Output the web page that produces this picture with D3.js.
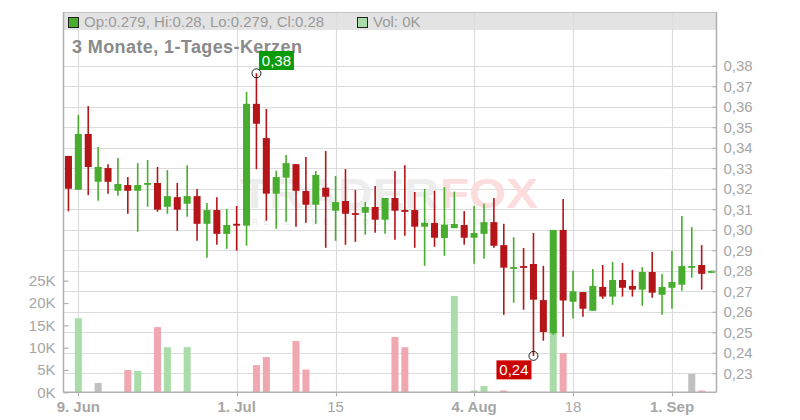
<!DOCTYPE html>
<html><head><meta charset="utf-8">
<script src="https://cdn.jsdelivr.net/npm/d3@7/dist/d3.min.js"></script>
<style>body{margin:0;background:#fff}svg{display:block;font-family:"Liberation Sans",Arial,Helvetica,sans-serif}</style>
</head><body><svg id="c" width="800" height="420"></svg>
<script>
// ---- data ----
const dates = ["2025-06-06","2025-06-09","2025-06-10","2025-06-11","2025-06-12","2025-06-13",
"2025-06-16","2025-06-17","2025-06-18","2025-06-19","2025-06-20",
"2025-06-23","2025-06-24","2025-06-25","2025-06-26","2025-06-27",
"2025-06-30","2025-07-01","2025-07-02","2025-07-03","2025-07-04",
"2025-07-07","2025-07-08","2025-07-09","2025-07-10","2025-07-11",
"2025-07-14","2025-07-15","2025-07-16","2025-07-17","2025-07-18",
"2025-07-21","2025-07-22","2025-07-23","2025-07-24","2025-07-25",
"2025-07-28","2025-07-29","2025-07-30","2025-07-31","2025-08-01",
"2025-08-04","2025-08-05","2025-08-06","2025-08-07","2025-08-08",
"2025-08-11","2025-08-12","2025-08-13","2025-08-14","2025-08-15",
"2025-08-18","2025-08-19","2025-08-20","2025-08-21","2025-08-22",
"2025-08-25","2025-08-26","2025-08-27","2025-08-28","2025-08-29",
"2025-09-01","2025-09-02","2025-09-03","2025-09-04","2025-09-05"];
const open  = [0.336,0.3195,0.3467,0.3234,0.3301,0.319,
0.3218,0.319,0.322,0.3228,0.3112,
0.3159,0.3127,0.3164,0.3029,0.3096,
0.298,0.3029,0.302,0.3614,0.3447,
0.3176,0.3254,0.332,0.3189,0.3122,
0.3205,0.3093,0.314,0.3081,0.3083,
0.3111,0.3049,0.3155,0.3096,0.3096,
0.3015,0.3033,0.296,0.3008,0.3023,
0.2961,0.298,0.3037,0.2925,0.2815,
0.2823,0.2833,0.2657,0.2495,0.2999,
0.2649,0.2696,0.2605,0.2721,0.2674,
0.2755,0.2726,0.2708,0.2794,0.2683,
0.2717,0.2732,0.2819,0.2828,0.279];
const high  = [0.336,0.356,0.3603,0.3403,0.332,0.335,
0.3257,0.3325,0.334,0.3306,0.3291,
0.3228,0.3315,0.3199,0.313,0.3159,
0.3101,0.3116,0.3672,0.3763,0.3589,
0.3288,0.3364,0.332,0.3355,0.3286,
0.3384,0.3262,0.3296,0.3194,0.3135,
0.3213,0.3155,0.3286,0.3315,0.3184,
0.3199,0.319,0.3208,0.3186,0.3091,
0.3116,0.3127,0.3155,0.3029,0.2964,
0.2911,0.2984,0.2824,0.2999,0.315,
0.28,0.2696,0.2809,0.2828,0.2843,
0.2838,0.2804,0.2818,0.2892,0.2784,
0.2896,0.3067,0.3013,0.2925,0.28];
const low   = [0.309,0.3195,0.3169,0.3141,0.3176,0.3166,
0.3078,0.299,0.3112,0.3088,0.3078,
0.2995,0.3063,0.2946,0.2863,0.2927,
0.2907,0.2898,0.2922,0.3295,0.3044,
0.3005,0.3039,0.3015,0.3034,0.3029,
0.2912,0.2946,0.2927,0.2941,0.2976,
0.2985,0.298,0.2951,0.2971,0.2912,
0.2824,0.2917,0.2873,0.3008,0.2927,
0.2834,0.2859,0.2912,0.2585,0.2644,
0.261,0.2385,0.2459,0.2488,0.2478,
0.2567,0.2576,0.2605,0.2663,0.2634,
0.2674,0.2674,0.2629,0.2668,0.2585,
0.2615,0.2702,0.2766,0.2708,0.279];
const close = [0.32,0.3467,0.3306,0.3306,0.3234,0.3223,
0.319,0.3218,0.3228,0.3098,0.3164,
0.3098,0.3164,0.3029,0.3096,0.298,
0.3023,0.302,0.3614,0.3517,0.3176,
0.3257,0.3325,0.319,0.3122,0.3267,
0.3161,0.3135,0.3078,0.3073,0.3111,
0.3049,0.3155,0.3093,0.3091,0.3015,
0.3034,0.2961,0.3025,0.3028,0.2961,
0.2984,0.3037,0.2922,0.2815,0.2818,
0.282,0.2659,0.2501,0.2999,0.2655,
0.27,0.2615,0.2726,0.2674,0.2755,
0.2717,0.2708,0.2794,0.2693,0.2721,
0.2745,0.2823,0.2823,0.2785,0.28];
const volume = [0,16600,0,2100,0,0,
5000,4800,0,14600,10100,
0,10100,0,0,0,
0,0,0,6100,7900,
0,0,11500,5100,0,
0,0,0,0,0,
0,0,12400,10100,0,
0,0,0,21600,0,
400,1400,0,400,0,
0,0,0,16000,8800,
0,0,0,0,0,
0,0,0,0,0,
0,0,4100,400,0];
const priceTicks = [0.23,0.24,0.25,0.26,0.27,0.28,0.29,0.30,0.31,0.32,0.33,0.34,0.35,0.36,0.37,0.38];
const volTicks = [0,5000,10000,15000,20000,25000];
const dateTickDates = ["2025-06-09","2025-07-01","2025-07-15","2025-08-04","2025-08-18","2025-09-01"];
const dateTickLabels = ["9. Jun","1. Jul","15","4. Aug","18","1. Sep"];
const dateTickBold = [true,true,false,true,false,true];
const headerText = "Op:0.279, Hi:0.28, Lo:0.279, Cl:0.28";
const volText = "Vol: 0K";
const title = "3 Monate, 1-Tages-Kerzen";

// ---- layout ----
const L = 63.5, R = 716.5, T = 12, B = 392.3;
const svg = d3.select("#c");
const x = d3.scaleBand().domain(dates).range([L, R]).paddingInner(0.29).paddingOuter(0.145);
const cx = d => x(d) + x.bandwidth()/2;
const y = d3.scaleLinear().domain([0.23, 0.38]).range([373.3, 65.7]);
const yv = d3.scaleLinear().domain([0, 25000]).range([B, 280.7]);
const GREEN = "#48ad2f", RED = "#b51519";
const VGREEN = "#aadcaa", VRED = "#f0a7b0", VGRAY = "#c0c0c0";
const grid = "#dcdcdc", axisC = "#b0b0b0", txtC = "#a6a6a6";

const data = dates.map((d,i)=>({d, o:open[i], h:high[i], l:low[i], c:close[i], v:volume[i],
  prev: i>0 ? close[i-1] : null}));

// header band
svg.append("rect").attr("x",L).attr("y",T).attr("width",R-L).attr("height",18).attr("fill","#e3e3e3");

// horizontal price grid
svg.append("g").selectAll("line").data(priceTicks).join("line")
  .attr("x1",L).attr("x2",R).attr("y1",d=>Math.round(y(d))+0.5).attr("y2",d=>Math.round(y(d))+0.5)
  .attr("stroke",grid).attr("stroke-width",1.2);
// vertical date grid
svg.append("g").selectAll("line").data(dateTickDates).join("line")
  .attr("x1",d=>Math.round(cx(d))+0.5).attr("x2",d=>Math.round(cx(d))+0.5).attr("y1",T).attr("y2",B)
  .attr("stroke",grid).attr("stroke-width",1.2);

// watermark (stretched logo lettering)
const wm = svg.append("g").attr("opacity",0.9);
const wg = wm.append("g");
const t1 = wg.append("text").attr("x",0).attr("y",0).attr("font-size",43).attr("font-weight","bold")
  .attr("fill","#ececec").text("TRADER");
const w1 = t1.node().getComputedTextLength();
const t2 = wg.append("text").attr("x",w1+1).attr("y",0).attr("font-size",43).attr("font-weight","bold")
  .attr("fill","#fcdada").text("FOX");
const w2 = t2.node().getComputedTextLength();
wg.attr("transform",`translate(240,208) scale(${298/(w1+1+w2)},1)`);
wm.append("text").attr("x",252).attr("y",225).attr("font-size",8.5).attr("letter-spacing",5)
  .attr("fill","#e6e6e6").text("REALTIME STOCK SCREENING");

// volume bars
const volColor = d => d.prev===null ? VGRAY : (d.c > d.prev + 1e-9 ? VGREEN : (d.c < d.prev - 1e-9 ? VRED : VGRAY));
svg.append("g").selectAll("rect").data(data.filter(d=>d.v>0)).join("rect")
  .attr("x",d=>x(d.d)).attr("width",x.bandwidth())
  .attr("y",d=>yv(d.v)).attr("height",d=>B-yv(d.v)).attr("fill",volColor);

// candles
const cg = svg.append("g").selectAll("g").data(data).join("g");
const col = d => d.c >= d.o ? GREEN : RED;
cg.append("line").attr("x1",d=>cx(d.d)).attr("x2",d=>cx(d.d))
  .attr("y1",d=>y(d.h)).attr("y2",d=>y(d.l)).attr("stroke",col).attr("stroke-width",1.6);
cg.append("rect").attr("x",d=>x(d.d)).attr("width",x.bandwidth())
  .attr("y",d=>Math.min(y(d.o),y(d.c)))
  .attr("height",d=>Math.max(1.8, Math.abs(y(d.o)-y(d.c)))).attr("fill",col);

// frame / axes
svg.append("line").attr("x1",L).attr("x2",R).attr("y1",T+0.5).attr("y2",T+0.5).attr("stroke","#c4c4c4");
svg.append("line").attr("x1",L).attr("x2",L).attr("y1",T).attr("y2",B).attr("stroke",axisC).attr("stroke-width",1.5);
svg.append("line").attr("x1",R).attr("x2",R).attr("y1",T).attr("y2",B).attr("stroke",axisC).attr("stroke-width",1.5);
svg.append("line").attr("x1",L).attr("x2",R).attr("y1",B).attr("y2",B).attr("stroke",axisC).attr("stroke-width",1.5);

// right price axis
const ra = svg.append("g").attr("transform",`translate(${R},0)`)
  .call(d3.axisRight(y).tickValues(priceTicks).tickSize(-4).tickPadding(7)
    .tickFormat(d=>d3.format(".2f")(d).replace(".",",")));
ra.select(".domain").remove();
ra.selectAll("line").attr("stroke",axisC).attr("stroke-width",1.2);
ra.selectAll("text").attr("font-size",15).attr("fill",txtC).attr("font-family","Liberation Sans, Arial, sans-serif");

// left volume axis
const la = svg.append("g").attr("transform",`translate(${L},0)`)
  .call(d3.axisLeft(yv).tickValues(volTicks).tickSize(-5).tickPadding(8).tickFormat(d=>(d/1000)+"K"));
la.select(".domain").remove();
la.selectAll("line").attr("stroke",axisC).attr("stroke-width",1.2);
la.selectAll("text").attr("font-size",15).attr("fill",txtC).attr("font-family","Liberation Sans, Arial, sans-serif");

// bottom date axis
svg.append("g").selectAll("line").data(dateTickDates).join("line")
  .attr("x1",d=>Math.round(cx(d))+0.5).attr("x2",d=>Math.round(cx(d))+0.5).attr("y1",B).attr("y2",B+4)
  .attr("stroke",axisC).attr("stroke-width",1.2);
svg.append("g").selectAll("text").data(dateTickDates).join("text")
  .attr("x",d=>cx(d)).attr("y",411.5).attr("text-anchor","middle").attr("font-size",15)
  .attr("font-weight",(d,i)=>dateTickBold[i]?"bold":"normal").attr("fill",txtC)
  .text((d,i)=>dateTickLabels[i]);

// header legend
svg.append("rect").attr("x",68.5).attr("y",17.5).attr("width",10).attr("height",10)
  .attr("fill",GREEN).attr("stroke","#222").attr("stroke-width",1);
svg.append("text").attr("x",84).attr("y",27).attr("font-size",15).attr("fill","#9a9a9a").text(headerText);
svg.append("rect").attr("x",357.5).attr("y",17.5).attr("width",10).attr("height",10)
  .attr("fill",VGREEN).attr("stroke","#222").attr("stroke-width",1);
svg.append("text").attr("x",373).attr("y",27).attr("font-size",15).attr("fill","#9a9a9a").text(volText);

// title
svg.append("text").attr("x",72).attr("y",53).attr("font-size",18).attr("font-weight","bold")
  .attr("letter-spacing",0.4).attr("fill","#8a8a8a").text(title);

// high / low markers
const iMax = d3.maxIndex(data, d=>d.h), iMin = d3.minIndex(data, d=>d.l);
const hi = data[iMax], lo = data[iMin];
const fmt2 = v => d3.format(".2f")(v).replace(".",",");
const hx = cx(hi.d), hy = y(hi.h);
svg.append("circle").attr("cx",hx).attr("cy",hy).attr("r",4.5).attr("fill","none").attr("stroke","#222").attr("stroke-width",1);
svg.append("rect").attr("x",hx+2.5).attr("y",hy-22.3).attr("width",35).attr("height",19).attr("fill","#0a9a0a");
svg.append("text").attr("x",hx+20).attr("y",hy-7.5).attr("text-anchor","middle").attr("font-size",15)
  .attr("fill","#fff").text(fmt2(hi.h));
const lx = cx(lo.d), ly = y(lo.l);
svg.append("circle").attr("cx",lx).attr("cy",ly).attr("r",4.5).attr("fill","none").attr("stroke","#222").attr("stroke-width",1);
svg.append("rect").attr("x",lx-37).attr("y",ly+4.5).attr("width",35).attr("height",19).attr("fill","#cc0000");
svg.append("text").attr("x",lx-19.5).attr("y",ly+19.5).attr("text-anchor","middle").attr("font-size",15)
  .attr("fill","#fff").text(fmt2(lo.l));
</script></body></html>
